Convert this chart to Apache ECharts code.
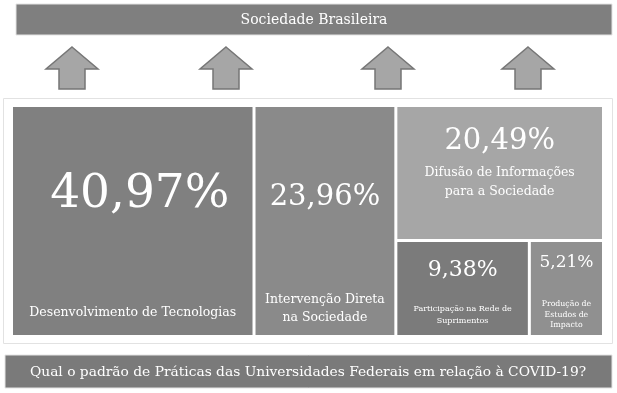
<!DOCTYPE html>
<html>
<head>
<meta charset="utf-8">
<script src="https://cdn.jsdelivr.net/npm/echarts@6/dist/echarts.min.js"></script>
<style>
  html, body { margin: 0; padding: 0; background: #fff; }
  #main { width: 617px; height: 393px; }
</style>
</head>
<body>
<div id="main"></div>
<script>
// dados do gráfico
var topTitle = 'Sociedade Brasileira';
var bottomTitle = 'Qual o padrão de Práticas das Universidades Federais em relação à COVID-19?';
var names = [
    'Desenvolvimento de Tecnologias',
    'Intervenção Direta\nna Sociedade',
    'Difusão de Informações\npara a Sociedade',
    'Participação na Rede de\nSuprimentos',
    'Produção de\nEstudos de\nImpacto'
];
var values = [40.97, 23.96, 20.49, 9.38, 5.21];

// estilo de cada bloco
var colors = ['#808080', '#8a8a8a', '#a6a6a6', '#7b7b7b', '#909090'];
var labelStyles = [
    { pad: 62, vSize: 47, vLine: 52, vShift: 14, gap: 83, nSize: 12.5, nLine: 18 },
    { pad: 73, vSize: 29, vLine: 34, vShift: 0, gap: 77, nSize: 12.5, nLine: 18 },
    { pad: 17, vSize: 29, vLine: 34, vShift: 0, gap: 5, nSize: 12.5, nLine: 19 },
    { pad: 14, vSize: 22, vLine: 28, vShift: 0, gap: 19, nSize: 8, nLine: 12 },
    { pad: 10, vSize: 17, vLine: 22, vShift: 0, gap: 25, nSize: 7.8, nLine: 10.5 }
];

var FONT = '"DejaVu Serif", serif';

function fmt(v) {
    return v.toFixed(2).replace('.', ',') + '%';
}

function leaf(i) {
    var s = labelStyles[i];
    return {
        name: names[i],
        value: values[i],
        itemStyle: { color: colors[i] },
        label: {
            show: true,
            position: 'insideTop',
            distance: 0,
            padding: [s.pad, 0, 0, 0],
            align: 'center',
            formatter: function () {
                return '{v|' + fmt(values[i]) + '}\n{g| }\n{n|' + names[i] + '}';
            },
            rich: {
                v: { fontFamily: FONT, fontSize: s.vSize, lineHeight: s.vLine, color: '#fff', align: 'center', padding: [0, 0, 0, s.vShift] },
                g: { fontSize: 1, lineHeight: s.gap },
                n: { fontFamily: FONT, fontSize: s.nSize, lineHeight: s.nLine, color: '#fff', align: 'center' }
            }
        }
    };
}

var treeData = [
    leaf(0),
    leaf(1),
    {
        name: 'grupo1',
        children: [
            leaf(2),
            { name: 'grupo2', children: [leaf(3), leaf(4)] }
        ]
    }
];

function arrow(cx) {
    return {
        type: 'polygon',
        shape: {
            points: [[cx, 47], [cx + 26, 69], [cx + 13, 69], [cx + 13, 89],
                     [cx - 13, 89], [cx - 13, 69], [cx - 26, 69]]
        },
        style: { fill: '#a6a6a6', stroke: '#767676', lineWidth: 1.5 }
    };
}

var chart = echarts.init(document.getElementById('main'));
var option = {
    animation: false,
    graphic: [
        {
            type: 'rect',
            shape: { x: 16, y: 4, width: 596, height: 31 },
            style: { fill: '#7f7f7f', stroke: '#e4e4e4', lineWidth: 1 }
        },
        {
            type: 'text',
            x: 314, y: 20,
            style: { text: topTitle, fill: '#fff', font: '14px ' + FONT, align: 'center', verticalAlign: 'middle' }
        },
        arrow(72), arrow(226), arrow(388), arrow(528),
        {
            type: 'rect',
            shape: { x: 3.5, y: 98.5, width: 609, height: 245 },
            style: { fill: 'none', stroke: '#e2e2e2', lineWidth: 1 }
        },
        {
            type: 'rect',
            shape: { x: 5, y: 355, width: 607, height: 33 },
            style: { fill: '#7a7a7a', stroke: '#e4e4e4', lineWidth: 1 }
        },
        {
            type: 'text',
            x: 308, y: 372,
            style: { text: bottomTitle, fill: '#fff', font: '13.8px ' + FONT, align: 'center', verticalAlign: 'middle' }
        }
    ],
    series: [
        {
            type: 'treemap',
            left: 13,
            top: 107,
            width: 589,
            height: 228,
            roam: false,
            nodeClick: false,
            sort: false,
            squareRatio: 1,
            breadcrumb: { show: false },
            tooltip: { show: false },
            emphasis: { disabled: true },
            levels: [
                { itemStyle: { gapWidth: 3, borderWidth: 0, borderColor: '#fff' } },
                { itemStyle: { gapWidth: 3, borderWidth: 0, borderColor: '#fff' } },
                { itemStyle: { gapWidth: 3, borderWidth: 0, borderColor: '#fff' } }
            ],
            data: treeData
        }
    ]
};
chart.setOption(option);
</script>
</body>
</html>
